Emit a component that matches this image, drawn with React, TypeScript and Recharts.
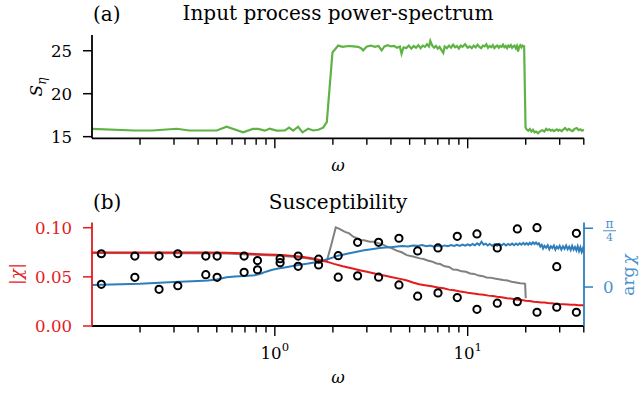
import React from 'react';
import { ComposedChart, Line, XAxis, YAxis, Scatter } from 'recharts';

const FONT = '"DejaVu Serif", serif';
const GREEN = '#5fb345';
const RED = '#e41a1c';
const BLUE = '#2f7ebc';
const BLUE_TXT = '#4b91cb';
const GRAY = '#808080';

const xTicks = [0.2, 0.3, 0.4, 0.5, 0.6, 0.7, 0.8, 0.9, 1, 2, 3, 4, 5, 6, 7, 8, 9, 10, 20, 30, 40];
const sEtaTicks = [15, 20, 25];
const chiAbsTicks = [0, 0.05, 0.1];
const chiArgTicks = [0, Math.PI / 4];

// (a) input power spectrum, in segments
const specLowW = [0.1127, 0.187, 0.232, 0.31, 0.36, 0.5, 0.562, 0.685, 0.77, 0.82, 0.887, 0.94, 1.02, 1.127, 1.186, 1.245, 1.32, 1.392, 1.49, 1.58, 1.68, 1.78, 1.86, 1.99, 2.13];
const specLowS = [15.9, 15.72, 15.72, 15.92, 15.72, 15.72, 16.16, 15.5, 15.9, 15.9, 15.7, 15.93, 15.7, 15.72, 16.05, 15.7, 16.16, 15.5, 15.93, 15.72, 15.8, 16.05, 16.7, 24.8, 25.6];
const specBandAW = [2.25, 2.4, 2.55, 2.7, 2.8, 2.87, 3.0, 3.15, 3.3, 3.45, 3.58, 3.7, 3.85, 4.0, 4.15, 4.3, 4.45, 4.54, 4.65, 4.8, 4.95, 5.1, 5.25, 5.4, 5.55, 5.7, 5.85, 6.0, 6.15, 6.3, 6.4, 6.55, 6.7, 6.85, 7.0, 7.15, 7.3, 7.47];
const specBandAS = [25.45, 25.55, 25.5, 25.45, 25.3, 25.05, 25.5, 25.6, 25.45, 25.55, 25.05, 25.5, 25.65, 25.5, 25.55, 25.35, 25.5, 24.65, 25.4, 25.3, 25.6, 25.25, 25.55, 25.35, 25.65, 25.3, 25.6, 25.45, 25.75, 25.5, 26.15, 25.6, 25.35, 25.55, 25.25, 25.45, 25.1, 24.75];
const specBandBW = [7.6, 7.8, 8.0, 8.2, 8.4, 8.6, 8.8, 9.0, 9.2, 9.4, 9.7, 10.0];
const specBandBS = [25.5, 25.3, 25.6, 25.35, 25.7, 25.4, 25.55, 25.25, 25.6, 25.45, 25.75, 25.35];
const specBandCW = [10.25, 10.5, 10.75, 11.0, 11.25, 11.5, 11.75, 12.0, 12.25, 12.5, 12.75, 13.0, 13.25, 13.5, 13.75, 14.0, 14.25, 14.5, 14.75, 15.0, 15.25, 15.5, 15.75, 16.0, 16.25, 16.5, 16.75, 17.0, 17.25, 17.5, 17.75, 18.0, 18.25, 18.5, 18.75, 19.0, 19.25, 19.5, 19.62, 19.95];
const specBandCS = [25.5, 25.3, 25.6, 25.4, 25.7, 25.45, 25.3, 25.6, 25.5, 25.75, 25.35, 25.55, 25.4, 25.65, 25.3, 25.5, 25.6, 25.35, 25.55, 25.45, 25.7, 25.4, 25.55, 25.3, 25.6, 25.45, 25.65, 25.35, 25.5, 25.6, 25.3, 25.55, 24.9, 25.5, 25.65, 25.4, 25.6, 25.5, 25.5, 16.1];
const specHighW = [20.2, 20.6, 21.0, 21.4, 21.8, 22.2, 22.6, 23.2, 23.8, 24.4, 25.0, 25.5, 26.0, 26.5, 27.0, 27.5, 28.0, 28.5, 29.0, 29.5, 30.0, 30.7, 31.4, 32.0, 32.8, 33.5, 34.2, 35.0, 35.8, 36.8, 37.6, 38.4, 39.2, 40.1];
const specHighS = [15.85, 15.7, 15.9, 15.6, 15.8, 15.5, 15.6, 15.4, 15.65, 15.75, 15.6, 15.9, 15.75, 15.85, 15.7, 15.8, 15.65, 15.75, 15.85, 15.7, 15.8, 15.65, 15.85, 16.0, 15.75, 15.9, 15.75, 15.65, 15.9, 16.0, 15.75, 15.85, 15.7, 15.8];

// (b) susceptibility: |chi| (red), |chi| alt (gray), arg chi (blue)
const absW = [
  0.1127, 0.225, 0.3375, 0.45, 0.5625, 0.675, 0.7875, 0.9, 1.0125, 1.125, 1.2375, 1.35, 1.4625, 1.575, 1.6875, 1.8, 1.9125, 2.025, 2.25, 2.5, 2.75, 3.0, 3.25,
  3.5, 3.75, 4.0, 4.4, 4.8, 5.2, 5.6, 6.0, 6.5, 7.0, 7.5, 8.0, 8.5, 9.0, 9.5, 10.0, 10.7, 11.4, 12.1, 12.8, 13.5, 14.2, 15.0, 16.0, 17.0, 18.0, 19.0, 20.0,
  21.0, 22.0, 23.0, 24.0, 25.0, 26.0, 27.0, 28.0, 29.0, 30.0, 31.5, 33.0, 34.5, 36.0, 37.5, 39.0, 40.1,
];
const absV = [
  0.0748, 0.0749, 0.0748, 0.0747, 0.0745, 0.0739, 0.0733, 0.0728, 0.0724, 0.0719, 0.0713, 0.0707, 0.0697, 0.0686, 0.0674, 0.0661, 0.0647, 0.0632, 0.0608, 0.0588,
  0.0568, 0.0551, 0.0536, 0.0522, 0.0511, 0.0499, 0.0482, 0.0466, 0.0442, 0.0425, 0.0415, 0.0404, 0.0392, 0.0383, 0.037, 0.0364, 0.0353, 0.0347, 0.0338, 0.033,
  0.0322, 0.0317, 0.0309, 0.0305, 0.0297, 0.0292, 0.0283, 0.0277, 0.0268, 0.0264, 0.0257, 0.0254, 0.0247, 0.0245, 0.024, 0.0238, 0.0234, 0.0232, 0.0229, 0.0227,
  0.0224, 0.0221, 0.0219, 0.0216, 0.0215, 0.0212, 0.0211, 0.021,
];
const grayW = [
  0.1127, 0.3375, 0.5625, 0.7875, 1.0125, 1.2375, 1.4625, 1.6875, 1.8, 1.867, 1.97, 2.07, 2.15, 2.31, 2.43, 2.55, 2.66, 2.76, 2.9, 3.11, 3.25, 3.44, 3.6, 3.8,
  4.0, 4.28, 4.55, 4.83, 5.2, 5.65, 5.9, 6.2, 6.5, 6.9, 7.2, 7.6, 8.0, 8.4, 8.8, 9.3, 9.8, 10.3, 10.8, 11.4, 12.0, 12.5, 13.1, 13.8, 14.5, 15.3, 16.1, 16.9,
  17.8, 18.7, 19.6, 19.85, 20.0,
];
const grayV = [
  0.0742, 0.0741, 0.0738, 0.0726, 0.0716, 0.0705, 0.069, 0.0668, 0.0658, 0.0672, 0.084, 0.1003, 0.099, 0.0958, 0.0942, 0.0909, 0.0895, 0.0874, 0.0872, 0.0858,
  0.0856, 0.0842, 0.0832, 0.0808, 0.0795, 0.0767, 0.075, 0.0721, 0.0707, 0.0688, 0.0682, 0.0667, 0.0657, 0.0636, 0.063, 0.0607, 0.0601, 0.0575, 0.0572, 0.0556,
  0.0551, 0.0534, 0.053, 0.0513, 0.0507, 0.0494, 0.0492, 0.0483, 0.0476, 0.0467, 0.0462, 0.045, 0.0443, 0.0434, 0.0433, 0.0428, 0.0283,
];
const argW = [
  0.1127, 0.2, 0.3, 0.4, 0.45, 0.5, 0.5625, 0.62, 0.7, 0.7875, 0.85, 0.9, 0.96, 1.0125, 1.06, 1.125, 1.2375, 1.35, 1.4625, 1.575, 1.6875, 1.8, 1.9125, 2.025,
  2.12, 2.25, 2.4, 2.55, 2.7, 2.9, 3.1, 3.3, 3.5, 3.75, 4.0, 4.3, 4.6, 4.9, 5.2, 5.5, 5.8, 6.1, 6.4, 6.7, 7.0, 7.3, 7.6, 7.9, 8.2, 8.5, 8.8, 9.1, 9.4, 9.7,
  10.0, 10.3, 10.6, 10.9, 11.2, 11.5, 11.8, 12.1, 12.4, 12.7, 13.0, 13.4, 13.8, 14.2, 14.6, 15.0, 15.4, 15.8, 16.2, 16.6, 17.0, 17.4, 17.8, 18.2, 18.6, 19.0,
  19.4, 19.8, 20.2, 20.6, 21.0, 21.4, 21.8, 22.2, 22.6, 23.0, 23.4, 23.8, 24.2, 24.6, 25.0, 25.5, 26.0, 26.5, 27.0, 27.5, 28.0, 28.5, 29.0, 29.5, 30.0, 30.6,
  31.2, 31.8, 32.4, 33.0, 33.6, 34.2, 34.8, 35.4, 36.0, 36.6, 37.2, 37.8, 38.4, 39.0, 39.6, 40.1,
];
const argV = [
  0.027, 0.045, 0.068, 0.08, 0.086, 0.1, 0.13, 0.14, 0.147, 0.158, 0.18, 0.205, 0.228, 0.24, 0.25, 0.262, 0.282, 0.297, 0.31, 0.325, 0.338, 0.358, 0.378, 0.4,
  0.418, 0.432, 0.448, 0.462, 0.475, 0.49, 0.502, 0.512, 0.52, 0.528, 0.533, 0.54, 0.548, 0.543, 0.556, 0.55, 0.56, 0.545, 0.555, 0.538, 0.55, 0.54, 0.556,
  0.545, 0.56, 0.548, 0.565, 0.55, 0.568, 0.552, 0.57, 0.555, 0.575, 0.558, 0.585, 0.56, 0.605, 0.565, 0.58, 0.555, 0.575, 0.552, 0.572, 0.55, 0.575, 0.558,
  0.578, 0.555, 0.575, 0.56, 0.58, 0.558, 0.582, 0.562, 0.585, 0.565, 0.59, 0.568, 0.588, 0.565, 0.592, 0.57, 0.598, 0.575, 0.595, 0.57, 0.585, 0.54, 0.565,
  0.515, 0.55, 0.525, 0.56, 0.505, 0.545, 0.52, 0.555, 0.5, 0.54, 0.515, 0.55, 0.5, 0.545, 0.51, 0.555, 0.505, 0.54, 0.495, 0.55, 0.5, 0.535, 0.49, 0.545,
  0.48, 0.53, 0.47, 0.52, 0.455,
];

// estimated points (circles)
const ptW = [0.126, 0.188, 0.251, 0.314, 0.4385, 0.502, 0.693, 0.813, 1.065, 1.321, 1.686, 2.131, 2.687, 3.452, 4.401, 5.502, 7.015, 8.832, 11.17, 14.24, 18.09, 22.88, 28.96, 36.61];
const ptAbs = [0.0735, 0.0711, 0.0711, 0.0735, 0.0711, 0.0711, 0.0711, 0.0666, 0.0685, 0.0711, 0.068, 0.0497, 0.051, 0.0497, 0.0418, 0.0303, 0.0337, 0.0289, 0.017, 0.0232, 0.0248, 0.014, 0.0191, 0.014];
const ptArg = [0.036, 0.13, -0.031, 0.017, 0.165, 0.13, 0.197, 0.231, 0.325, 0.277, 0.294, 0.419, 0.598, 0.598, 0.652, 0.482, 0.522, 0.678, 0.709, 0.522, 0.776, 0.793, 0.272, 0.718];

const toPts = (w: number[], v: number[]) => w.map((x, i) => ({ w: x, v: v[i] }));
const specData = [
  ...toPts(specLowW, specLowS),
  ...toPts(specBandAW, specBandAS),
  ...toPts(specBandBW, specBandBS),
  ...toPts(specBandCW, specBandCS),
  ...toPts(specHighW, specHighS),
];
const absData = toPts(absW, absV);
const grayData = toPts(grayW, grayV);
const argData = toPts(argW, argV);
const ptAbsData = toPts(ptW, ptAbs);
const ptArgData = toPts(ptW, ptArg);

const X_DOMAIN: [number, number] = [0.1127, 40.1];
const TICK_FS = 16.6;

const XTick = (props: any) => {
  const { x, y, payload, showLabel } = props;
  const v = payload.value;
  const lg = Math.log10(v);
  const major = Math.abs(lg - Math.round(lg)) < 1e-6;
  return (
    <g>
      <line x1={x} x2={x} y1={y} y2={y + (major ? 10 : 6.5)} stroke="#000" strokeWidth={1.4} />
      {showLabel && major && (
        <text x={x} y={y + 33.4} textAnchor="middle" fontFamily={FONT} fontSize={TICK_FS} fill="#000">
          10<tspan dy={-8.7} fontSize={11.6}>{Math.round(lg)}</tspan>
        </text>
      )}
    </g>
  );
};

const RTick = (props: any) => {
  const { x, y, payload } = props;
  if (Math.abs(payload.value) < 1e-9) {
    return (
      <text x={x} y={y} dy="0.36em" fontFamily={FONT} fontSize={TICK_FS} fill={BLUE_TXT}>0</text>
    );
  }
  const cx = x + 6.5;
  return (
    <g>
      <text x={cx} y={y} textAnchor="middle" fontFamily={FONT} fontSize={12} fill={BLUE_TXT}>π</text>
      <line x1={x} x2={x + 13} y1={y + 2.5} y2={y + 2.5} stroke={BLUE_TXT} strokeWidth={1} />
      <text x={cx} y={y + 12.7} textAnchor="middle" fontFamily={FONT} fontSize={11} fill={BLUE_TXT}>4</text>
    </g>
  );
};

const circleShape = (p: any) => (
  <circle cx={p.cx} cy={p.cy} r={3.6} fill="none" stroke="#000" strokeWidth={2} />
);

export default function App() {
  return (
    <div style={{ position: 'absolute', left: 0, top: 0, width: 639, height: 393, background: '#fff' }}>
      <div style={{ position: 'absolute', left: 0, top: 0 }}>
        <ComposedChart width={639} height={180} margin={{ top: 35, right: 55, bottom: 0, left: 0 }}>
          <XAxis
            dataKey="w"
            type="number"
            scale="log"
            domain={X_DOMAIN}
            allowDataOverflow
            ticks={xTicks}
            interval={0}
            height={41.7}
            tickSize={0}
            tickMargin={0}
            tickLine={false}
            axisLine={{ stroke: '#000', strokeWidth: 1.8 }}
            tick={(p: any) => <XTick {...p} showLabel={false} />}
          />
          <YAxis
            type="number"
            domain={[14.81, 26.83]}
            allowDataOverflow
            ticks={sEtaTicks}
            interval={0}
            width={92}
            tickSize={9}
            tickMargin={11}
            axisLine={{ stroke: '#000', strokeWidth: 1.8 }}
            tickLine={{ stroke: '#000', strokeWidth: 1.5 }}
            tick={{ fill: '#000', fontSize: TICK_FS, fontFamily: FONT }}
          />
          <Line data={specData} dataKey="v" type="linear" stroke={GREEN} strokeWidth={2.2} dot={false} activeDot={false} isAnimationActive={false} />
        </ComposedChart>
      </div>
      <div style={{ position: 'absolute', left: 0, top: 180 }}>
        <ComposedChart width={639} height={213} margin={{ top: 42.6, right: 0, bottom: 0, left: 0 }}>
          <XAxis
            dataKey="w"
            type="number"
            scale="log"
            domain={X_DOMAIN}
            allowDataOverflow
            ticks={xTicks}
            interval={0}
            height={67}
            tickSize={0}
            tickMargin={0}
            tickLine={false}
            axisLine={{ stroke: '#000', strokeWidth: 1.8 }}
            tick={(p: any) => <XTick {...p} showLabel={true} />}
          />
          <YAxis
            yAxisId="l"
            orientation="left"
            type="number"
            domain={[0, 0.1052]}
            allowDataOverflow
            ticks={chiAbsTicks}
            interval={0}
            width={92}
            tickSize={9}
            tickMargin={11}
            tickFormatter={(v: number) => v.toFixed(2)}
            axisLine={{ stroke: RED, strokeWidth: 1.8 }}
            tickLine={{ stroke: RED, strokeWidth: 1.5 }}
            tick={{ fill: RED, fontSize: TICK_FS, fontFamily: FONT }}
          />
          <YAxis
            yAxisId="r"
            orientation="right"
            type="number"
            domain={[-0.521, 0.861]}
            allowDataOverflow
            ticks={chiArgTicks}
            interval={0}
            width={55}
            tickSize={9}
            tickMargin={10}
            axisLine={{ stroke: BLUE, strokeWidth: 1.8 }}
            tickLine={{ stroke: BLUE, strokeWidth: 1.5 }}
            tick={(p: any) => <RTick {...p} />}
          />
          <Line yAxisId="l" data={grayData} dataKey="v" type="linear" stroke={GRAY} strokeWidth={2} dot={false} activeDot={false} isAnimationActive={false} />
          <Line yAxisId="r" data={argData} dataKey="v" type="linear" stroke={BLUE} strokeWidth={2} dot={false} activeDot={false} isAnimationActive={false} />
          <Line yAxisId="l" data={absData} dataKey="v" type="linear" stroke={RED} strokeWidth={2} dot={false} activeDot={false} isAnimationActive={false} />
          <Scatter yAxisId="l" data={ptAbsData} dataKey="v" shape={circleShape} isAnimationActive={false} />
          <Scatter yAxisId="r" data={ptArgData} dataKey="v" shape={circleShape} isAnimationActive={false} />
        </ComposedChart>
      </div>
      <svg width={639} height={393} style={{ position: 'absolute', left: 0, top: 0, pointerEvents: 'none' }} fontFamily={FONT}>
        <text x={93} y={20.5} fontSize={20} fill="#000">(a)</text>
        <text x={338} y={20} fontSize={20} fill="#000" textAnchor="middle">Input process power-spectrum</text>
        <text x={93} y={208.5} fontSize={20} fill="#000">(b)</text>
        <text x={338} y={208.5} fontSize={20} fill="#000" textAnchor="middle">Susceptibility</text>
        <text x={338} y={171} fontSize={TICK_FS} fill="#000" textAnchor="middle" fontStyle="italic">ω</text>
        <text x={338} y={383.3} fontSize={TICK_FS} fill="#000" textAnchor="middle" fontStyle="italic">ω</text>
        <text transform="translate(42,87) rotate(-90)" fontSize={17} fill="#000" textAnchor="middle">
          <tspan fontStyle="italic">S</tspan>
          <tspan fontStyle="italic" fontSize={12} dy={4}>η</tspan>
        </text>
        <text transform="translate(22,274) rotate(-90)" fontSize={17} fill={RED} textAnchor="middle">
          |<tspan fontStyle="italic">χ</tspan>|
        </text>
        <text transform="translate(634,275) rotate(-90)" fontSize={17} fill={BLUE_TXT} textAnchor="middle">
          arg<tspan fontStyle="italic" dx={2}>χ</tspan>
        </text>
      </svg>
    </div>
  );
}
